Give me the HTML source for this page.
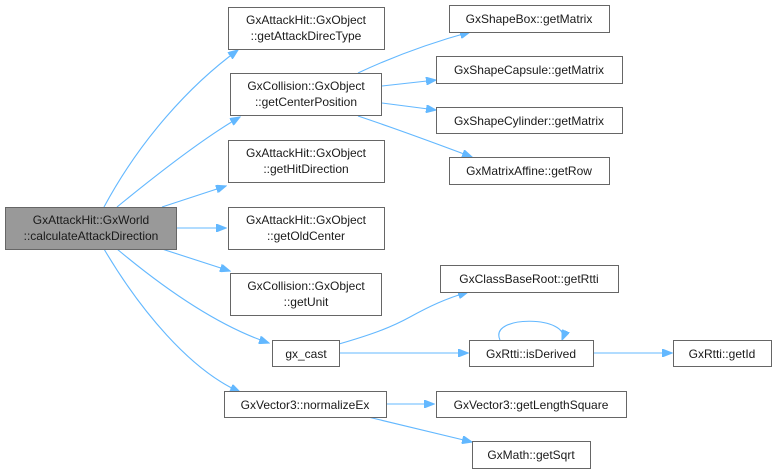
<!DOCTYPE html>
<html><head><meta charset="utf-8"><style>
html,body{margin:0;padding:0;background:#fff;}
svg{display:block;}
text{font-family:"Liberation Sans",Arial,sans-serif;font-size:12px;fill:#1a1a1a;}
rect{fill:#fff;stroke:#666;stroke-width:1;}
path{fill:none;stroke:#63b8ff;stroke-width:1.1;}
</style></head><body>
<svg width="773" height="473" viewBox="0 0 773 473" xmlns="http://www.w3.org/2000/svg">
<defs><marker id="a" markerWidth="11" markerHeight="8" refX="10" refY="4" orient="auto" markerUnits="userSpaceOnUse"><path d="M0,0 L10,4 L0,8 Z" style="fill:#63b8ff;stroke:#63b8ff"/></marker></defs>
<g>
<path d="M104,207 C140,140 190,85 238,50" marker-end="url(#a)"/>
<path d="M117,207 C150,180 200,140 240,117" marker-end="url(#a)"/>
<path d="M162,207 L226,186" marker-end="url(#a)"/>
<path d="M177,228 L226,228" marker-end="url(#a)"/>
<path d="M162,249 L230,271" marker-end="url(#a)"/>
<path d="M117,249 C160,285 215,325 269,343" marker-end="url(#a)"/>
<path d="M104,249 C140,310 190,370 240,392" marker-end="url(#a)"/>
<path d="M358,73 C390,58 430,43 470,32" marker-end="url(#a)"/>
<path d="M382,86 L436,80" marker-end="url(#a)"/>
<path d="M382,103 L436,110" marker-end="url(#a)"/>
<path d="M358,116 C400,130 440,145 472,157" marker-end="url(#a)"/>
<path d="M339,344 C370,335 390,328 410,317 C430,306 445,299 468,292" marker-end="url(#a)"/>
<path d="M339,353 L468,353" marker-end="url(#a)"/>
<path d="M500,340 C488,314 572,316 562,340" marker-end="url(#a)"/>
<path d="M593,353 L672,353" marker-end="url(#a)"/>
<path d="M386,404 L434,404" marker-end="url(#a)"/>
<path d="M368,417 L472,442" marker-end="url(#a)"/>
</g>
<rect x="5.5" y="207.5" width="171" height="42" style="fill:#999"/>
<text x="91" y="224" text-anchor="middle">GxAttackHit::GxWorld</text>
<text x="91" y="240" text-anchor="middle">::calculateAttackDirection</text>

<rect x="228.5" y="7.5" width="156" height="42"/>
<text x="306" y="24" text-anchor="middle">GxAttackHit::GxObject</text>
<text x="306" y="40" text-anchor="middle">::getAttackDirecType</text>

<rect x="230.5" y="73.5" width="151" height="42"/>
<text x="306" y="90" text-anchor="middle">GxCollision::GxObject</text>
<text x="306" y="106" text-anchor="middle">::getCenterPosition</text>

<rect x="228.5" y="140.5" width="156" height="42"/>
<text x="306" y="157" text-anchor="middle">GxAttackHit::GxObject</text>
<text x="306" y="173" text-anchor="middle">::getHitDirection</text>

<rect x="228.5" y="207.5" width="156" height="42"/>
<text x="306" y="224" text-anchor="middle">GxAttackHit::GxObject</text>
<text x="306" y="240" text-anchor="middle">::getOldCenter</text>

<rect x="230.5" y="273.5" width="151" height="42"/>
<text x="306" y="290" text-anchor="middle">GxCollision::GxObject</text>
<text x="306" y="306" text-anchor="middle">::getUnit</text>

<rect x="272.5" y="340.5" width="67" height="26"/>
<text x="306" y="358" text-anchor="middle">gx_cast</text>

<rect x="224.5" y="391.5" width="162" height="26"/>
<text x="305" y="409" text-anchor="middle">GxVector3::normalizeEx</text>

<rect x="449.5" y="5.5" width="160" height="27"/>
<text x="529" y="23" text-anchor="middle">GxShapeBox::getMatrix</text>
<rect x="436.5" y="56.5" width="186" height="27"/>
<text x="529" y="74" text-anchor="middle">GxShapeCapsule::getMatrix</text>
<rect x="436.5" y="107.5" width="186" height="26"/>
<text x="529" y="125" text-anchor="middle">GxShapeCylinder::getMatrix</text>
<rect x="449.5" y="157.5" width="160" height="27"/>
<text x="529" y="175" text-anchor="middle">GxMatrixAffine::getRow</text>

<rect x="440.5" y="265.5" width="178" height="27"/>
<text x="529" y="283" text-anchor="middle">GxClassBaseRoot::getRtti</text>
<rect x="469.5" y="340.5" width="124" height="26"/>
<text x="531" y="358" text-anchor="middle">GxRtti::isDerived</text>
<rect x="673.5" y="340.5" width="98" height="26"/>
<text x="722" y="358" text-anchor="middle">GxRtti::getId</text>
<rect x="436.5" y="391.5" width="190" height="26"/>
<text x="531" y="409" text-anchor="middle">GxVector3::getLengthSquare</text>
<rect x="472.5" y="441.5" width="118" height="27"/>
<text x="531" y="459" text-anchor="middle">GxMath::getSqrt</text>
</svg>
</body></html>
